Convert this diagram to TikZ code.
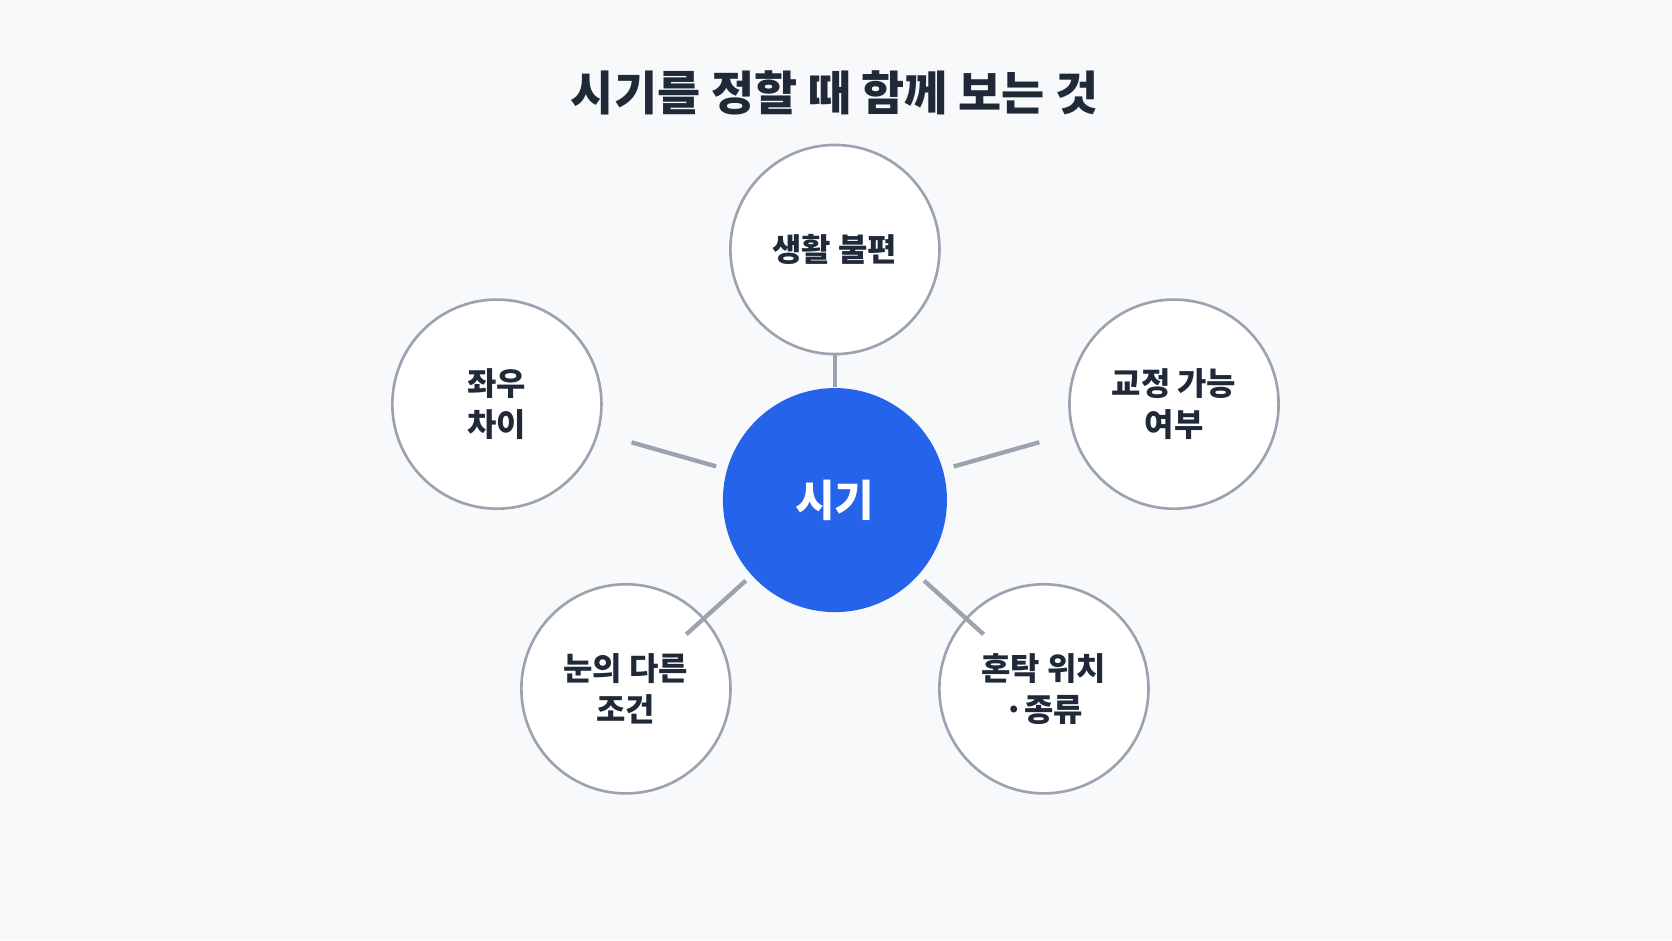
\documentclass[tikz,border=0pt]{standalone}
\usepackage{fontspec}
\setmainfont{Noto Sans CJK KR}
\usetikzlibrary{positioning}
\definecolor{bgcol}{HTML}{F7F9FB}
\definecolor{linecol}{HTML}{9CA3AF}
\definecolor{hubcol}{HTML}{2563EB}
\definecolor{txtcol}{HTML}{1F2937}
\begin{document}
\begin{tikzpicture}[x=0.01cm, y=-0.01cm,
    factor/.style={circle, draw=linecol, line width=0.7pt, fill=white, minimum size=1.96cm,
        inner sep=0pt, align=center, text=txtcol, font=\bfseries\fontsize{8.5}{11}\selectfont},
    hub/.style={circle, fill=hubcol, minimum size=2.1cm, text=white,
        font=\bfseries\fontsize{11.5}{14}\selectfont},
    link/.style={draw=linecol, line width=1.15pt}
]
    \fill[bgcol] (0,0) rectangle (1568,882);

    \node[text=txtcol, font=\bfseries\fontsize{12.5}{15}\selectfont] (title) at (783,87) {시기를 정할 때 함께 보는 것};

    \node[hub] (timing) at (783,469) {시기};

    \node[factor] (life) at (783,234) {생활 불편};
    \node[factor] (sides) at (466,379) {좌우\\차이};
    \node[factor] (fix) at (1101,379) {교정 가능\\여부};
    \node[factor] (eyes) at (587,646) {눈의 다른\\조건};
    \node[factor] (opac) at (979,646) {혼탁 위치\\·종류};

    \draw[link] (life) -- (timing);
    \draw[link, shorten <=0.32cm, shorten >=0.1cm] (sides) -- (timing);
    \draw[link, shorten <=0.32cm, shorten >=0.1cm] (fix) -- (timing);
    \draw[link, shorten <=-0.23cm, shorten >=0.07cm] (eyes) -- (timing);
    \draw[link, shorten <=-0.23cm, shorten >=0.07cm] (opac) -- (timing);
\end{tikzpicture}
\end{document}
